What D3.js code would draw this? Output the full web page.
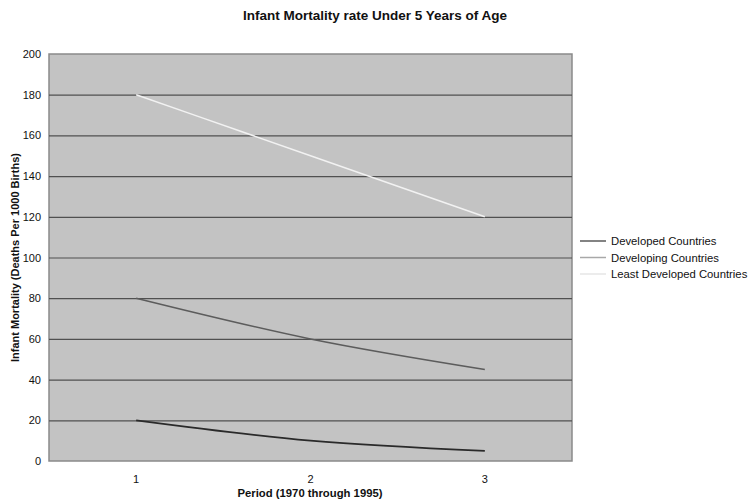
<!DOCTYPE html>
<html>
<head>
<meta charset="utf-8">
<script src="https://cdn.jsdelivr.net/npm/d3@7"></script>
<style>
  body { margin: 0; background: #fff; }
  text { font-family: "Liberation Sans", Arial, sans-serif; fill: #111; }
</style>
</head>
<body>
<div id="chart"></div>
<script>
var periods = [1, 2, 3];
var developed = [20, 10, 5];
var developing = [80, 60, 45];
var leastDeveloped = [180, 150, 120];
var seriesNames = ["Developed Countries", "Developing Countries", "Least Developed Countries"];
var yTicks = [0, 20, 40, 60, 80, 100, 120, 140, 160, 180, 200];

var width = 749, height = 503;
var margin = {top: 54, right: 177, bottom: 42, left: 49};
var plotW = width - margin.left - margin.right,
    plotH = height - margin.top - margin.bottom;

var svg = d3.select("#chart")
            .append("svg")
                .attr("width", width)
                .attr("height", height);

var g = svg.append("g")
            .attr("transform", "translate(" + margin.left + "," + margin.top + ")");

var xScale = d3.scaleBand()
                .domain(periods)
                .range([0, plotW]);

var yScale = d3.scaleLinear()
                .domain([0, 200])
                .range([plotH, 0]);

// plot background
g.append("rect")
    .attr("width", plotW)
    .attr("height", plotH)
    .attr("fill", "#c3c3c3")
    .attr("stroke", "#8a8a8a")
    .attr("stroke-width", 1.5);

// gridlines
g.append("g")
    .selectAll("line")
    .data(yTicks.slice(1, -1))
    .enter()
    .append("line")
        .attr("x1", 0)
        .attr("x2", plotW)
        .attr("y1", function(d) { return yScale(d) + 0.5; })
        .attr("y2", function(d) { return yScale(d) + 0.5; })
        .attr("stroke", "#505050")
        .attr("stroke-width", 1.2);

// y axis
var yAxis = g.append("g")
    .call(d3.axisLeft(yScale).tickValues(yTicks).tickSize(0).tickPadding(8));
yAxis.select(".domain").remove();
yAxis.selectAll("text")
    .style("font-size", "11px")
    .style("font-family", "Liberation Sans, Arial, sans-serif")
    .attr("fill", "#111");

// x axis
var xAxis = g.append("g")
    .attr("transform", "translate(0," + plotH + ")")
    .call(d3.axisBottom(xScale).tickSize(0).tickPadding(14));
xAxis.select(".domain").remove();
xAxis.selectAll("text")
    .style("font-size", "11px")
    .style("font-family", "Liberation Sans, Arial, sans-serif")
    .attr("fill", "#111");

// lines
var allSeries = [
    {name: seriesNames[0], values: developed, color: "#2a2a2a", width: 1.8},
    {name: seriesNames[1], values: developing, color: "#5c5c5c", width: 1.5},
    {name: seriesNames[2], values: leastDeveloped, color: "#f2f2f2", width: 1.5}
];

var line = d3.line()
    .x(function(d, i) { return xScale(periods[i]) + xScale.bandwidth() / 2; })
    .y(function(d) { return yScale(d); })
    .curve(d3.curveMonotoneX);

g.append("g")
    .selectAll("path")
    .data(allSeries)
    .enter()
    .append("path")
        .attr("d", function(d) { return line(d.values); })
        .attr("fill", "none")
        .attr("stroke", function(d) { return d.color; })
        .attr("stroke-width", function(d) { return d.width; });

// title
svg.append("text")
    .attr("x", 375)
    .attr("y", 20)
    .attr("text-anchor", "middle")
    .style("font-size", "13.5px")
    .style("font-weight", "bold")
    .text("Infant Mortality rate Under 5 Years of Age");

// axis titles
svg.append("text")
    .attr("x", 310)
    .attr("y", 497)
    .attr("text-anchor", "middle")
    .style("font-size", "11.3px")
    .style("font-weight", "bold")
    .text("Period (1970 through 1995)");

svg.append("text")
    .attr("transform", "translate(19," + (margin.top + plotH / 2) + ") rotate(-90)")
    .attr("text-anchor", "middle")
    .style("font-size", "11px")
    .style("font-weight", "bold")
    .text("Infant Mortality (Deaths Per 1000 Births)");

// legend
var legendColors = ["#5a5a5a", "#a8a8a8", "#e6e6e6"];
var legend = svg.append("g")
    .attr("transform", "translate(580,241)")
    .selectAll("g")
    .data(allSeries)
    .enter()
    .append("g")
        .attr("transform", function(d, i) { return "translate(0," + i * 16.5 + ")"; });

legend.append("line")
    .attr("x1", 0)
    .attr("x2", 26)
    .attr("stroke", function(d, i) { return legendColors[i]; })
    .attr("stroke-width", 1.5);

legend.append("text")
    .attr("x", 31)
    .attr("y", 4)
    .style("font-size", "11.3px")
    .text(function(d) { return d.name; });
</script>
</body>
</html>
